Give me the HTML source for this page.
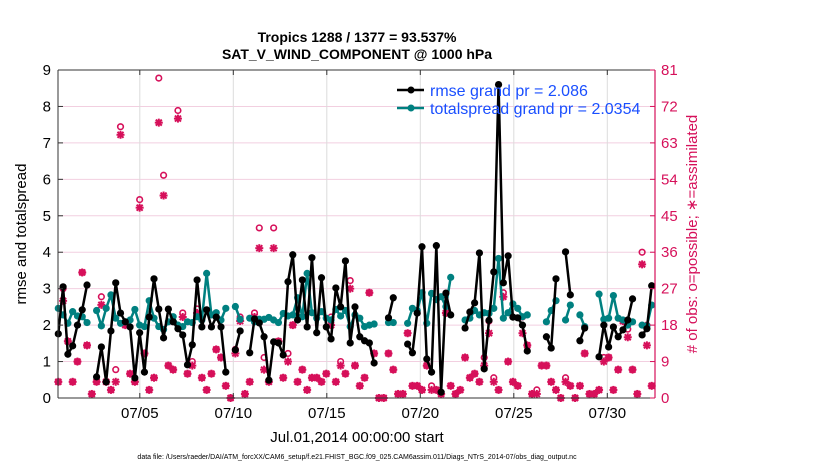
<!DOCTYPE html>
<html><head><meta charset="utf-8"><style>
body{margin:0;background:#fff;}
svg{display:block;font-family:"Liberation Sans",sans-serif;}
</style></head><body>
<svg id="chart" width="830" height="470" viewBox="0 0 830 470">
<g id="grid"></g>
<g id="series"></g>
<g id="axes"></g>
<text x="357" y="42" text-anchor="middle" font-size="14" font-weight="bold">Tropics 1288 / 1377 = 93.537%</text>
<text x="357" y="59" text-anchor="middle" font-size="14" font-weight="bold">SAT_V_WIND_COMPONENT @ 1000 hPa</text>
<text transform="translate(26,234) rotate(-90)" text-anchor="middle" font-size="15">rmse and totalspread</text>
<text transform="translate(697,234) rotate(-90)" text-anchor="middle" font-size="15" fill="#d6105a"># of obs: o=possible; ∗=assimilated</text>
<text x="357" y="442" text-anchor="middle" font-size="15">Jul.01,2014 00:00:00 start</text>
<text x="357" y="459" text-anchor="middle" font-size="7">data file: /Users/raeder/DAI/ATM_forcXX/CAM6_setup/f.e21.FHIST_BGC.f09_025.CAM6assim.011/Diags_NTrS_2014-07/obs_diag_output.nc</text>
<g>
<line x1="397" y1="90" x2="424" y2="90" stroke="#000" stroke-width="2.5"/>
<circle cx="411" cy="90" r="3.5" fill="#000"/>
<text x="430" y="96" font-size="16" fill="#1a4fff">rmse grand pr = 2.086</text>
<line x1="397" y1="108" x2="424" y2="108" stroke="#008080" stroke-width="2.5"/>
<circle cx="411" cy="108" r="3.5" fill="#008080"/>
<text x="430" y="114" font-size="16" fill="#1a4fff">totalspread grand pr = 2.0354</text>
</g>
</svg>
<script>
const N = null;
const rmse = [1.76,3.05,1.2,1.43,2.0,2.42,3.1,N,0.58,1.4,0.44,1.84,3.16,2.33,2.09,1.95,0.55,1.79,0.71,2.22,3.27,2.44,1.65,2.44,2.09,1.9,1.73,0.91,1.46,3.24,1.95,2.42,1.95,2.22,1.95,0.71,N,1.32,1.84,N,1.24,2.17,2.06,1.68,0.49,1.54,1.51,1.18,3.19,3.93,2.14,3.24,1.95,3.85,1.79,3.3,1.95,1.62,3.02,2.5,3.76,1.51,2.5,1.68,1.57,1.51,0.96,N,N,2.2,2.75,N,N,1.48,1.24,2.33,4.15,1.07,0.71,4.18,0.16,2.88,2.28,N,N,1.92,2.36,2.61,3.98,0.8,2.13,3.46,8.6,3.16,3.9,2.22,2.2,2.0,1.29,N,N,N,1.68,1.37,3.27,N,4.01,2.83,N,1.57,1.92,N,N,1.13,2.0,1.4,1.95,1.68,1.87,2.14,2.72,N,1.73,1.9,3.08];
const spread = [2.46,2.28,2.05,2.37,2.25,2.23,2.07,N,2.4,1.98,2.46,2.83,2.19,2.05,2.09,2.14,2.43,2.0,1.96,2.67,2.19,1.96,1.88,2.09,2.23,2.0,1.96,2.09,2.07,2.23,2.14,3.42,2.28,2.34,2.14,2.46,N,2.51,2.16,N,2.19,2.09,2.16,2.16,2.21,2.14,2.07,2.32,2.25,2.28,2.75,2.23,3.42,2.34,2.19,2.37,2.19,2.14,2.43,2.25,2.4,1.96,2.28,2.19,1.96,2.0,2.03,N,N,2.07,2.07,N,N,2.05,2.46,2.4,2.89,2.05,2.87,2.7,2.78,2.51,3.31,N,N,2.14,2.19,2.4,2.28,2.34,2.32,2.46,3.83,2.19,2.34,2.58,2.46,2.23,2.28,N,N,N,2.09,2.4,2.67,N,2.14,2.55,N,2.28,1.96,N,N,2.85,2.16,2.19,2.81,2.19,2.14,2.0,2.09,N,2.0,1.98,2.55];
const possible = [4,27,14,4,9,31,13,1,4,25,4,2,7,67,18,6,4,49,11,2,5,79,55,8,7,71,21,6,9,22,5,2,6,12,10,3,0,12,20,1,4,21,42,10,4,42,14,5,11,18,4,7,2,5,5,4,6,20,4,9,6,29,8,3,5,26,11,0,0,11,7,1,1,16,3,3,2,8,3,2,1,21,3,1,2,10,5,6,4,10,19,5,2,26,9,4,3,20,13,1,2,8,8,4,2,0,5,3,0,3,11,1,1,2,10,10,2,7,19,17,7,1,36,18,3];
const assimilated = [4,24,14,4,9,31,13,1,4,23,4,2,4,65,18,6,4,47,11,2,5,68,50,8,7,69,20,6,8,21,5,2,6,12,10,3,0,11,19,1,4,20,37,7,4,37,14,5,9,18,4,7,2,5,5,4,6,18,4,8,6,27,8,3,5,26,11,0,0,11,7,1,1,16,3,3,2,8,2,2,1,21,3,1,2,10,5,6,4,8,16,4,2,25,9,4,3,16,13,1,1,8,8,4,2,0,4,3,0,3,11,1,1,2,9,10,2,7,19,15,7,1,33,13,3];
const leftTicks = [0,1,2,3,4,5,6,7,8,9];
const rightTicks = [0,9,18,27,36,45,54,63,72,81];
const dateTicks = [5,10,15,20,25,30];
const dateLabels = ["07/05","07/10","07/15","07/20","07/25","07/30"];
const t0 = 0.642, dt = 0.2559; // sample start day and 6-hourly spacing (days)

const L=58,R=655,T=70,B=398;
const xDay = d => 65 + (d-1)*18.7;
const xk = k => xDay(t0 + k*dt);
const yL = v => B - v*(B-T)/9;
const yR = v => B - v*(B-T)/81;
const NS="http://www.w3.org/2000/svg";
function mk(tag, attrs, parent){const e=document.createElementNS(NS,tag);for(const a in attrs)e.setAttribute(a,attrs[a]);parent.appendChild(e);return e;}
const grid=document.getElementById('grid'), ser=document.getElementById('series'), ax=document.getElementById('axes');
const PINK="#d6105a";

// grid
rightTicks.forEach(v=>{ if(v>0&&v<81){ const g=mk('line',{x1:L,x2:R,y1:yR(v),y2:yR(v),stroke:"#f2cfe0","stroke-width":1},grid);

}});
dateTicks.forEach(d=>{ const g=mk('line',{x1:xDay(d),x2:xDay(d),y1:T,y2:B,stroke:"#dcdcdc","stroke-width":1},grid);

});

// obs markers
function star(cx,cy,parent){
  const g=mk('g',{stroke:PINK,"stroke-width":2},parent);
  
  
  const r=4;
  mk('line',{x1:cx-r,x2:cx+r,y1:cy,y2:cy},g);
  mk('line',{x1:cx,x2:cx,y1:cy-r,y2:cy+r},g);
  mk('line',{x1:cx-3,x2:cx+3,y1:cy-3,y2:cy+3},g);
  mk('line',{x1:cx-3,x2:cx+3,y1:cy+3,y2:cy-3},g);
}
possible.forEach((v,k)=>{ const c=mk('circle',{cx:xk(k),cy:yR(v),r:2.8,fill:"none",stroke:PINK,"stroke-width":1.6},ser);

});
assimilated.forEach((v,k)=>star(xk(k),yR(v),ser));

// lines
function drawSeries(vals,color,name){
  let segs=[],cur=[];
  vals.forEach((v,k)=>{ if(v===null){ if(cur.length)segs.push(cur); cur=[];} else cur.push([xk(k),yL(v)]);});
  if(cur.length)segs.push(cur);
  segs.forEach(s=>{ const p=mk('polyline',{points:s.map(q=>q.join(',')).join(' '),fill:"none",stroke:color,"stroke-width":2.5,"stroke-linejoin":"round"},ser);
  
  });
  vals.forEach((v,k)=>{ if(v===null)return; const c=mk('circle',{cx:xk(k),cy:yL(v),r:3.6,fill:color},ser);
  
  });
}
drawSeries(spread,"#008080","totalspread");
drawSeries(rmse,"#000000","rmse");

// axes
mk('line',{x1:L,x2:R,y1:T,y2:T,stroke:"#333","stroke-width":1},ax);
mk('line',{x1:L,x2:R,y1:B,y2:B,stroke:"#333","stroke-width":1},ax);
mk('line',{x1:L,x2:L,y1:T,y2:B,stroke:"#333","stroke-width":1},ax);
mk('line',{x1:R,x2:R,y1:T,y2:B,stroke:PINK,"stroke-width":1.2},ax);
leftTicks.forEach(v=>{
  mk('line',{x1:L,x2:L+5,y1:yL(v),y2:yL(v),stroke:"#333"},ax);
  const t=mk('text',{x:L-7,y:yL(v)+5,"text-anchor":"end","font-size":15},ax); t.textContent=v;
  
  
});
rightTicks.forEach(v=>{
  mk('line',{x1:R-5,x2:R,y1:yR(v),y2:yR(v),stroke:PINK},ax);
  const t=mk('text',{x:R+6,y:yR(v)+5,"font-size":15,fill:PINK},ax); t.textContent=v;
  
  
});
dateTicks.forEach((d,i)=>{
  mk('line',{x1:xDay(d),x2:xDay(d),y1:B-5,y2:B,stroke:"#333"},ax);
  mk('line',{x1:xDay(d),x2:xDay(d),y1:T,y2:T+5,stroke:"#333"},ax);
  const t=mk('text',{x:xDay(d),y:B+20,"text-anchor":"middle","font-size":15},ax); t.textContent=dateLabels[i];
  
  
});
</script>
</body></html>
